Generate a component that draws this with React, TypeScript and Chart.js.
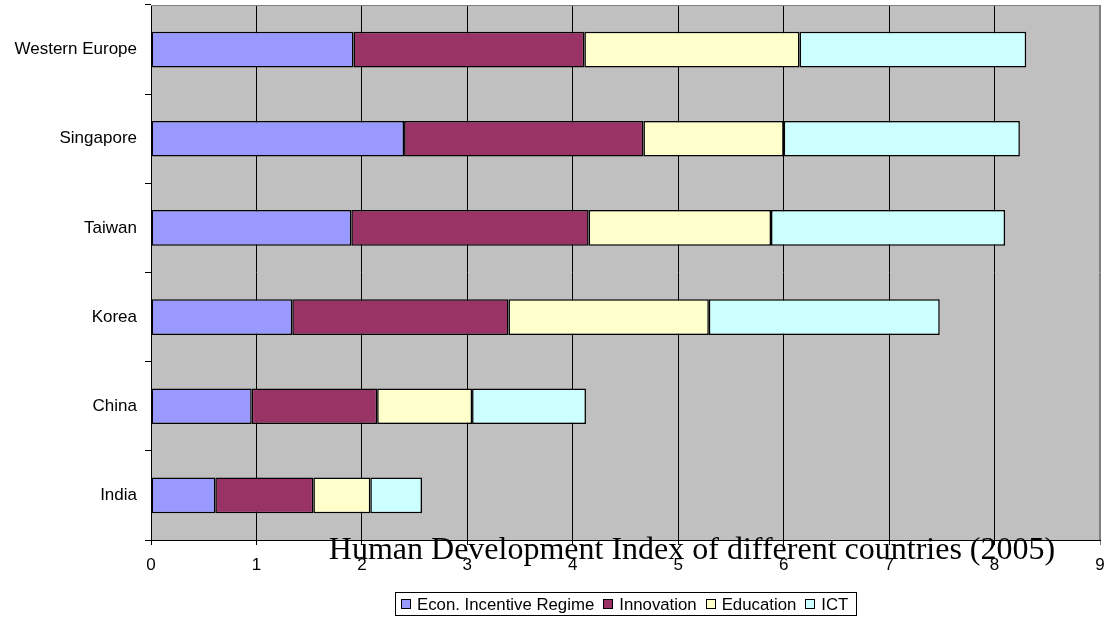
import { useEffect, useRef } from 'react';
import { Chart, registerables } from 'chart.js';

Chart.register(...registerables);

const categories = ['Western Europe', 'Singapore', 'Taiwan', 'Korea', 'China', 'India'];
const seriesNames = ['Econ. Incentive Regime', 'Innovation', 'Education', 'ICT'];
const econ = [1.92, 2.4, 1.9, 1.34, 0.955, 0.61];
const innovation = [2.19, 2.27, 2.25, 2.05, 1.19, 0.93];
const education = [2.04, 1.33, 1.73, 1.9, 0.9, 0.54];
const ict = [2.15, 2.24, 2.22, 2.19, 1.08, 0.49];
const xMin = 0;
const xMax = 9;
const xStep = 1;
const chartTitle = 'Human Development Index of different countries (2005)';
const colors = ['#9999FF', '#993366', '#FFFFCC', '#CCFFFF'];

const SANS = '"Liberation Sans", Arial, sans-serif';
const SERIF = '"Liberation Serif", "Times New Roman", serif';

const decorPlugin = {
  id: 'decor',
  beforeDraw(chart: any) {
    const { ctx, chartArea: a } = chart;
    ctx.save();
    ctx.fillStyle = '#FFFFFF';
    ctx.fillRect(0, 0, chart.width, chart.height);
    ctx.fillStyle = '#C0C0C0';
    ctx.fillRect(a.left, a.top, a.right - a.left, a.bottom - a.top);
    ctx.restore();
  },
  beforeDatasetsDraw(chart: any) {
    const { ctx, chartArea: a } = chart;
    ctx.save();
    ctx.strokeStyle = '#808080';
    ctx.lineWidth = 1;
    ctx.beginPath();
    ctx.moveTo(a.left, a.top + 0.5);
    ctx.lineTo(a.right, a.top + 0.5);
    ctx.moveTo(a.right - 0.5, a.top);
    ctx.lineTo(a.right - 0.5, a.bottom);
    ctx.stroke();
    ctx.restore();
  },
  afterDraw(chart: any) {
    const { ctx } = chart;
    ctx.save();
    // title
    ctx.fillStyle = '#000';
    ctx.font = `32px ${SERIF}`;
    ctx.textAlign = 'center';
    ctx.textBaseline = 'alphabetic';
    ctx.fillText(chartTitle, 692, 559);

    // legend
    ctx.font = `16.8px ${SANS}`;
    const ds = chart.data.datasets;
    const widths = ds.map((d: any) => ctx.measureText(d.label).width);
    const sq = 10;
    const textGap = 16;
    const itemGap = 9;
    const padL = 6;
    const padR = 8;
    let total = padL + padR;
    widths.forEach((w: number, i: number) => {
      total += textGap + w + (i < widths.length - 1 ? itemGap : 0);
    });
    total = Math.round(total);
    const boxLeft = Math.round(625 - total / 2);
    const boxTop = 592;
    const boxH = 24;
    ctx.strokeStyle = '#000';
    ctx.lineWidth = 1;
    ctx.fillStyle = '#FFFFFF';
    ctx.fillRect(boxLeft, boxTop, total, boxH);
    ctx.strokeRect(boxLeft + 0.5, boxTop + 0.5, total, boxH - 1);
    let x = boxLeft + padL;
    const cy = boxTop + boxH / 2;
    ctx.textAlign = 'left';
    ctx.textBaseline = 'middle';
    ds.forEach((d: any, i: number) => {
      const sx = Math.round(x);
      const sy = Math.round(cy - sq / 2);
      ctx.fillStyle = d.backgroundColor;
      ctx.fillRect(sx, sy, sq, sq);
      ctx.strokeStyle = '#000';
      ctx.strokeRect(sx + 0.5, sy + 0.5, sq - 1, sq - 1);
      ctx.fillStyle = '#000';
      ctx.fillText(d.label, x + textGap, cy + 1);
      x += textGap + widths[i] + itemGap;
    });
    ctx.restore();
  },
};

export default function App() {
  const ref = useRef<HTMLCanvasElement | null>(null);

  useEffect(() => {
    document.body.style.margin = '0';
    const canvas = ref.current;
    if (!canvas) return;
    const values = [econ, innovation, education, ict];
    const chart = new Chart(canvas, {
      type: 'bar',
      data: {
        labels: categories,
        datasets: seriesNames.map((name, i) => ({
          label: name,
          data: values[i],
          backgroundColor: colors[i],
          borderColor: '#000000',
          borderWidth: 1.5,
          borderSkipped: false,
          categoryPercentage: 1,
          barPercentage: 0.4,
        })),
      },
      options: {
        indexAxis: 'y',
        animation: false,
        responsive: false,
        devicePixelRatio: 1,
        layout: { padding: { top: 5, right: 7, bottom: 0, left: 0 } },
        plugins: {
          legend: { display: false },
          title: { display: false },
          tooltip: { enabled: false },
        },
        scales: {
          x: {
            stacked: true,
            min: xMin,
            max: xMax,
            ticks: {
              stepSize: xStep,
              color: '#000',
              font: { family: SANS, size: 17 },
              padding: 10,
              maxRotation: 0,
            },
            grid: {
              color: (c: any) => (c.index === xMax ? '#808080' : '#000000'),
              lineWidth: 1,
              tickLength: 5,
              drawTicks: true,
            },
            border: { display: true, color: '#000000' },
            afterFit: (scale: any) => {
              scale.height = 77;
              scale.paddingLeft = 0;
              scale.paddingRight = 0;
            },
          },
          y: {
            stacked: true,
            ticks: {
              color: '#000',
              font: { family: SANS, size: 17 },
              padding: 8,
            },
            grid: {
              offset: true,
              drawOnChartArea: false,
              drawTicks: true,
              tickLength: 6,
              tickColor: '#000000',
            },
            border: { display: true, color: '#000000' },
            afterFit: (scale: any) => {
              scale.width = 151;
              scale.paddingTop = 0;
              scale.paddingBottom = 0;
            },
          },
        },
      },
      plugins: [decorPlugin],
    });
    return () => chart.destroy();
  }, []);

  return (
    <div style={{ width: 1107, height: 617 }}>
      <canvas ref={ref} width={1107} height={617} style={{ display: 'block' }} />
    </div>
  );
}
